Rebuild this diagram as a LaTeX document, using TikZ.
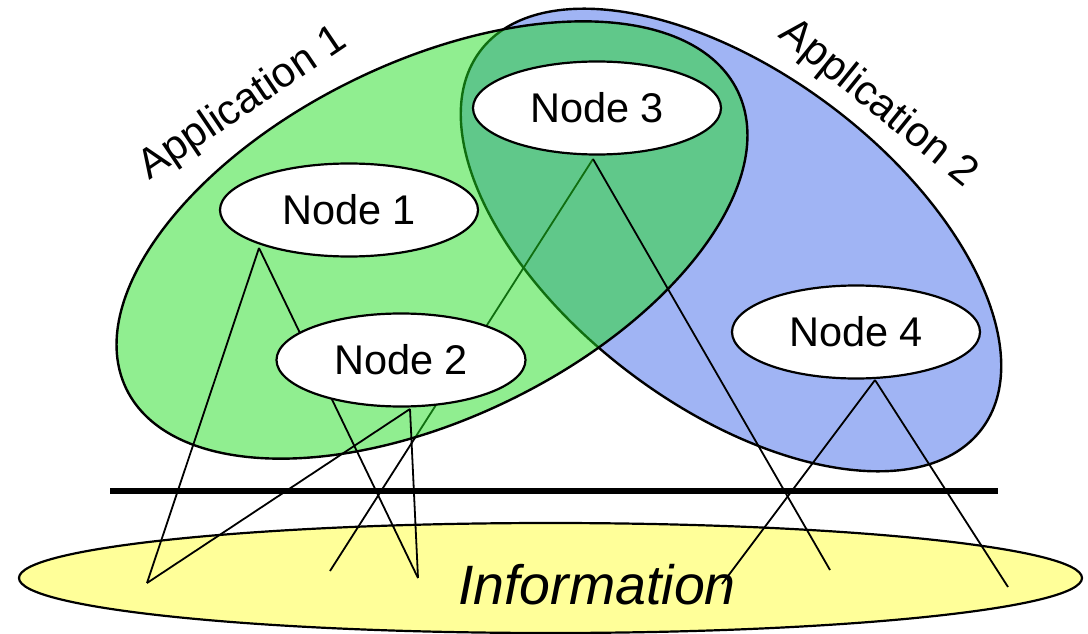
\documentclass[tikz,border=0pt]{standalone}
\usepackage{fontspec}
\setmainfont{Liberation Sans}
\usetikzlibrary{shapes.geometric}
\pgfdeclarelayer{l0}\pgfdeclarelayer{l1}\pgfdeclarelayer{l2}\pgfdeclarelayer{l3}
\pgfsetlayers{l0,l1,l2,l3,main}
\definecolor{appgreen}{RGB}{33,221,33}
\definecolor{appblue}{RGB}{160,180,244}
\definecolor{infoyellow}{RGB}{255,255,153}
\begin{document}
\begin{tikzpicture}[x=1pt,y=-1pt,
  nodeell/.style={ellipse,draw=black,line width=2.2pt,fill=white,inner sep=0pt,minimum height=93pt,font=\fontsize{41.5}{41.5}\selectfont},
  wire/.style={line width=1.8pt,draw=black},
  applabel/.style={font=\fontsize{42}{42}\selectfont,inner sep=0pt},
  appshape/.style={draw=black,line width=2.4pt},
  divider/.style={line width=6.5pt,draw=black}]
\useasboundingbox (0,0) rectangle (1088,634);

% nodes
\node[nodeell,minimum width=258pt] (n1) at (349,210) {Node 1};
\node[nodeell,minimum width=249pt] (n2) at (401,360) {Node 2};
\node[nodeell,minimum width=248pt] (n3) at (597,108) {Node 3};
\node[nodeell,minimum width=248pt] (n4) at (856,332) {Node 4};

\node[applabel,rotate=34] (app1) at (243,104) {Application 1};
\node[applabel,rotate=-39] (app2) at (878,104) {Application 2};

% connector end points
\coordinate (a1) at (259,248);
\coordinate (a2) at (410,409);
\coordinate (a3) at (593,159);
\coordinate (a4) at (875,380);
\coordinate (e1) at (147,583);
\coordinate (e2) at (418,578);
\coordinate (e3) at (330,571);
\coordinate (e4) at (830,570);
\coordinate (e5) at (722,584);
\coordinate (e6) at (1008,587);
\coordinate (dl) at (110,491);
\coordinate (dr) at (998,491);

\begin{pgfonlayer}{l0}
  \draw[line width=2.2pt,fill=infoyellow] (550.5,578) ellipse [x radius=531.5pt, y radius=55pt];
  \node[font=\fontsize{55.5}{55.5}\selectfont\itshape,inner sep=0pt] (info) at (597,585) {Information};
\end{pgfonlayer}

\begin{pgfonlayer}{l1}
  \draw[appshape,fill=appblue,rotate around={-37:(731,240)}] (731,240) ellipse [x radius=314pt, y radius=167pt];
  \draw[wire] (a3) -- (e3);
\end{pgfonlayer}

\begin{pgfonlayer}{l2}
  \draw[appshape,fill=appgreen,fill opacity=0.5,rotate around={26:(432,240)}] (432,240) ellipse [x radius=340pt, y radius=178pt];
\end{pgfonlayer}

\begin{pgfonlayer}{l3}
  \draw[wire] (a1) -- (e1);
  \draw[wire] (a1) -- (e2);
  \draw[wire] (a2) -- (e1);
  \draw[wire] (a2) -- (e2);
  \draw[wire] (a3) -- (e4);
  \draw[wire] (a4) -- (e5);
  \draw[wire] (a4) -- (e6);
  \draw[divider] (dl) -- (dr);
\end{pgfonlayer}
\end{tikzpicture}
\end{document}
